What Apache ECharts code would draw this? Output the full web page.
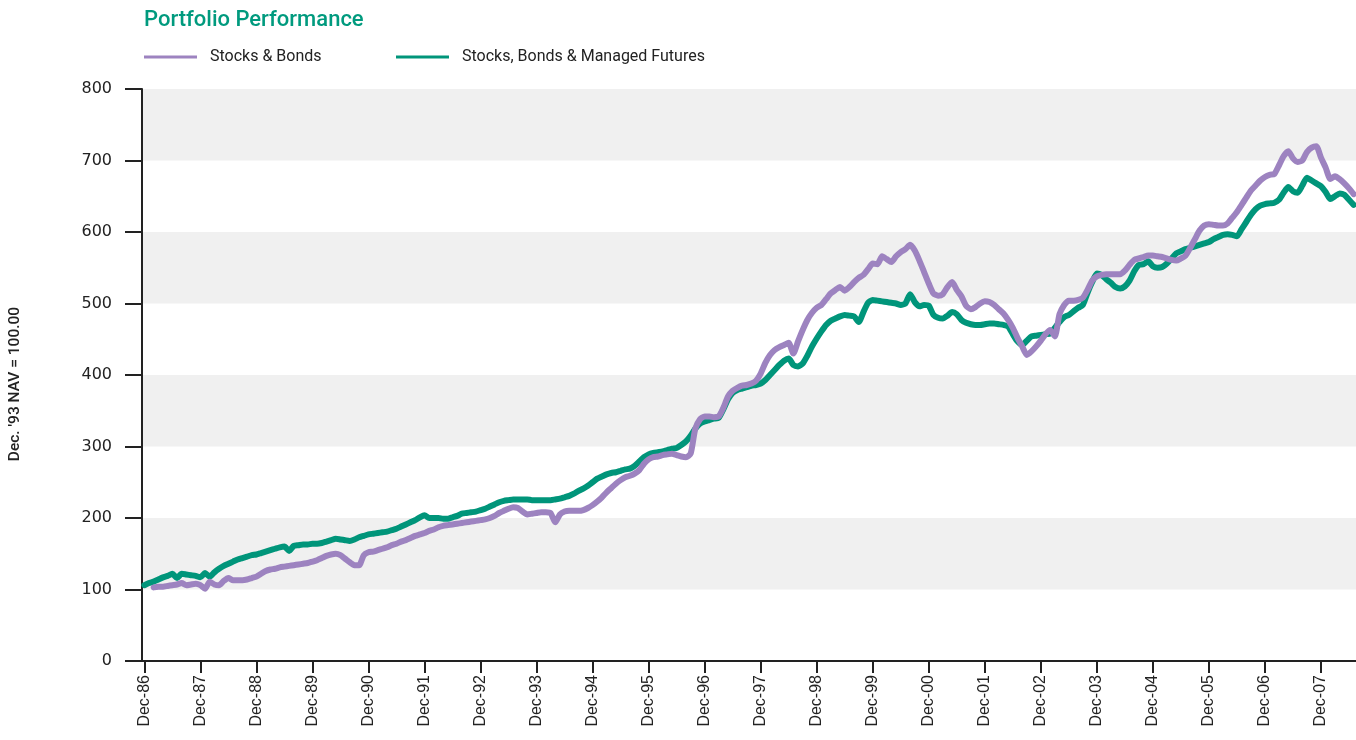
<!DOCTYPE html>
<html>
<head>
<meta charset="utf-8">
<script src="https://cdn.jsdelivr.net/npm/echarts@6/dist/echarts.min.js"></script>
<style>
html,body{margin:0;padding:0;background:#fff;}
#chart{width:1356px;height:740px;}
</style>
</head>
<body>
<div id="chart"></div>
<script>
// Monthly categories: Dec-86 .. Jul-08 (260 months)
const monthNames = ['Jan','Feb','Mar','Apr','May','Jun','Jul','Aug','Sep','Oct','Nov','Dec'];
const startYear = 1986, startMonth = 11, monthCount = 260;
const categories = [];
for (let k = 0; k < monthCount; k++) {
  const m = (startMonth + k) % 12;
  const y = startYear + Math.floor((startMonth + k) / 12);
  categories.push(monthNames[m] + '-' + String(y % 100).padStart(2, '0'));
}

const seriesNames = ['Stocks & Bonds', 'Stocks, Bonds & Managed Futures'];

// Stocks, Bonds & Managed Futures
const sbmf = [
106,109,111,114,117,119,122,116,122,121,120,119,
117,123,118,124,129,133,136,139,142,144,146,148,
149,151,153,155,157,159,160,154,161,162,163,163,
164,164,165,167,169,171,170,169,168,170,173,175,
177,178,179,180,181,183,185,188,191,194,197,201,
204,200,200,200,199,199,201,203,206,207,208,209,
211,213,216,219,222,224,225,226,226,226,226,225,
225,225,225,225,226,227,229,231,234,238,241,245,
250,255,258,261,263,264,266,268,269,273,279,285,
289,291,292,293,295,297,298,302,307,315,325,332,
335,337,339,340,352,366,375,379,381,383,385,386,
388,393,400,407,414,420,423,414,412,416,427,440,
451,461,470,476,479,482,484,483,482,474,488,501,
505,504,503,502,501,500,498,500,513,502,496,498,
497,484,480,479,483,488,485,477,473,471,470,470,
471,472,472,471,470,468,457,447,442,448,454,455,
456,457,458,466,474,481,484,489,494,498,515,530,
542,540,534,529,523,521,524,532,545,554,555,559,
552,550,551,556,563,570,573,576,578,580,582,584,
586,590,593,596,597,596,594,604,614,624,632,637,
639,640,641,645,655,663,657,655,665,676,672,668,
664,656,646,650,654,652,645,638
];

// Stocks & Bonds
const sb = [
null,null,103,104,104,105,106,107,109,106,107,108,
106,101,111,107,106,112,116,113,113,113,114,116,
118,122,126,128,129,131,132,133,134,135,136,137,
139,141,144,147,149,150,148,143,138,134,134,148,
152,153,155,157,159,162,164,167,169,172,175,177,
179,182,184,187,189,190,191,192,193,194,195,196,
197,198,200,203,207,210,213,215,214,209,205,206,
207,208,208,207,194,205,209,210,210,210,211,214,
218,223,229,236,242,248,253,257,259,262,267,276,
282,285,286,288,289,290,288,286,285,290,325,338,
342,342,341,342,354,370,378,382,385,386,388,392,
402,417,428,435,439,442,445,430,447,463,477,487,
494,498,506,514,519,523,518,523,530,536,540,548,
556,555,566,562,558,566,572,576,582,574,560,544,
528,514,511,513,523,530,519,510,497,492,495,500,
503,502,498,492,486,477,466,452,440,428,433,440,
448,457,463,454,485,498,504,504,505,508,519,532,
538,540,541,541,541,541,546,554,561,563,565,567,
567,566,565,563,561,560,563,567,578,590,602,609,
611,610,609,609,612,620,628,638,648,658,665,672,
677,680,681,693,706,713,703,698,700,712,718,720,
704,690,674,678,674,668,661,653
];

const yTicks = {min: 0, max: 800, interval: 100};

const GREEN = '#00957a';
const PURPLE = '#9d83c0';
const INK = '#222222';

const chart = echarts.init(document.getElementById('chart'), null, {renderer: 'canvas'});
chart.setOption({
  animation: false,
  backgroundColor: '#ffffff',
  grid: {left: 142, right: 0, top: 89, bottom: 79, containLabel: false},
  legend: [
    {
      data: [seriesNames[0]], left: 139, top: 44, itemWidth: 53, itemHeight: 3, icon: 'rect',
      textStyle: {fontFamily: 'Roboto', fontSize: 16, color: INK, padding: [0, 0, 0, 8]}
    },
    {
      data: [seriesNames[1]], left: 391, top: 44, itemWidth: 53, itemHeight: 3, icon: 'rect',
      textStyle: {fontFamily: 'Roboto', fontSize: 16, color: INK, padding: [0, 0, 0, 8]}
    }
  ],
  graphic: [
    {
      type: 'text', left: 144, top: 9,
      style: {text: 'Portfolio Performance', fill: '#009a7e', font: '500 22px Roboto'}
    },
    {
      type: 'text', x: 15, y: 384, rotation: Math.PI / 2,
      style: {text: "Dec. '93 NAV = 100.00", fill: INK, font: '500 15.5px Roboto',
              textAlign: 'center', textVerticalAlign: 'middle'}
    }
  ],
  xAxis: {
    type: 'category',
    data: categories,
    boundaryGap: true,
    axisLine: {show: true, lineStyle: {color: INK, width: 2}},
    axisTick: {show: true, alignWithLabel: true, length: 12, lineStyle: {color: INK, width: 2},
               interval: function (idx) { return idx % 12 === 0; }},
    axisLabel: {
      rotate: 90, margin: 14, color: INK, fontFamily: 'Liberation Sans', fontSize: 16,
      interval: function (idx) { return idx % 12 === 0; }
    },
    splitLine: {show: false}
  },
  yAxis: {
    type: 'value',
    min: yTicks.min, max: yTicks.max, interval: yTicks.interval,
    axisLine: {show: true, lineStyle: {color: INK, width: 2}},
    axisTick: {show: true, length: 17, lineStyle: {color: INK, width: 2}},
    axisLabel: {margin: 30, color: INK, fontFamily: 'DejaVu Sans', fontSize: 16},
    splitLine: {show: false},
    splitArea: {show: true, areaStyle: {color: ['#ffffff', '#f0f0f0']}}
  },
  series: [
    {
      name: seriesNames[1], type: 'line', data: sbmf, showSymbol: false, symbol: 'none',
      smooth: 0.2, color: GREEN,
      lineStyle: {color: GREEN, width: 6, cap: 'round', join: 'round'}
    },
    {
      name: seriesNames[0], type: 'line', data: sb, showSymbol: false, symbol: 'none',
      smooth: 0.2, color: PURPLE,
      lineStyle: {color: PURPLE, width: 6, cap: 'round', join: 'round'}
    }
  ]
});
</script>
</body>
</html>
